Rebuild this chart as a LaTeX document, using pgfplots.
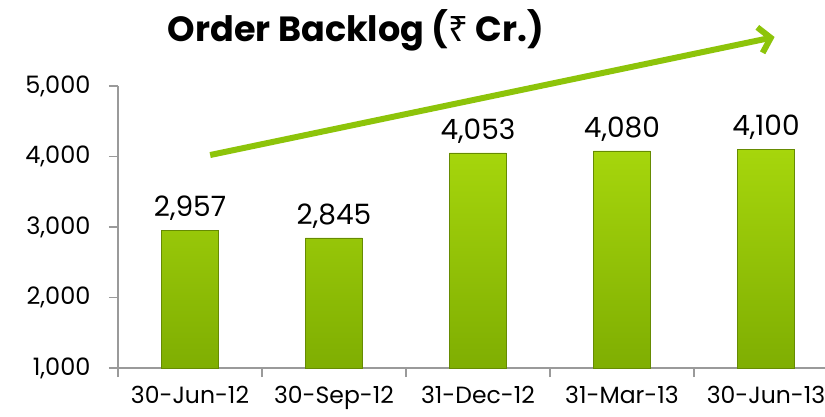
\documentclass[border=0pt]{standalone}
\usepackage{fontspec}
\setmainfont{Poppins}
\newfontfamily\rupee{Noto Sans}
\usepackage{pgfplots}
\pgfplotsset{compat=1.18}
\usetikzlibrary{arrows.meta}
\definecolor{lime}{HTML}{8DC40A}
\definecolor{bartop}{HTML}{A6D60C}
\definecolor{barbot}{HTML}{7FAE02}
\definecolor{axgray}{HTML}{9A9A9A}
\begin{document}
\begin{tikzpicture}
\path[use as bounding box] (0,0) rectangle (825pt,416pt);
\begin{axis}[
  at={(118pt,48pt)}, anchor=south west,
  scale only axis, width=707pt, height=282pt,
  xmin=-0.5, xmax=4.41, ymin=1000, ymax=5000,
  axis x line*=bottom, axis y line*=left,
  axis line style={axgray, line width=1.2pt, -},
  xtick={0,1,2,3,4},
  xticklabels={30-Jun-12,30-Sep-12,31-Dec-12,31-Mar-13,30-Jun-13},
  minor xtick={-0.5,0.5,1.5,2.5,3.5},
  major x tick style={draw=none},
  minor tick length=9pt,
  minor x tick style={axgray, line width=1.2pt},
  ytick={1000,2000,3000,4000,5000},
  y tick style={axgray, line width=1.2pt},
  major tick length=9pt,
  tick align=outside,
  x tick label style={font=\fontsize{23.5}{25}\selectfont, yshift=-6pt},
  y tick label style={font=\fontsize{24}{26}\selectfont, xshift=-15pt},
  /pgf/number format/assume math mode=true,
  /pgf/number format/1000 sep={,},
  ybar, bar width=57pt,
  nodes near coords,
  nodes near coords style={font=\fontsize{28}{30}\selectfont, black, yshift=6pt,
    /pgf/number format/1000 sep={,}},
  clip=false,
]
\addplot[draw=barbot!80!black, line width=0.4pt, top color=bartop, bottom color=barbot]
  coordinates {(0,2957) (1,2845) (2,4053) (3,4080) (4,4100)};
\draw[lime, line width=6pt, -{Straight Barb[length=11pt, width=26pt, line width=6pt]}]
  (axis cs:0.14,4021) -- (axis cs:4.06,5695);
\end{axis}
\node[font=\fontsize{35}{37}\selectfont\bfseries] at (356pt,386pt) {Order Backlog ({\rupee ₹} Cr.)};
\end{tikzpicture}
\end{document}
